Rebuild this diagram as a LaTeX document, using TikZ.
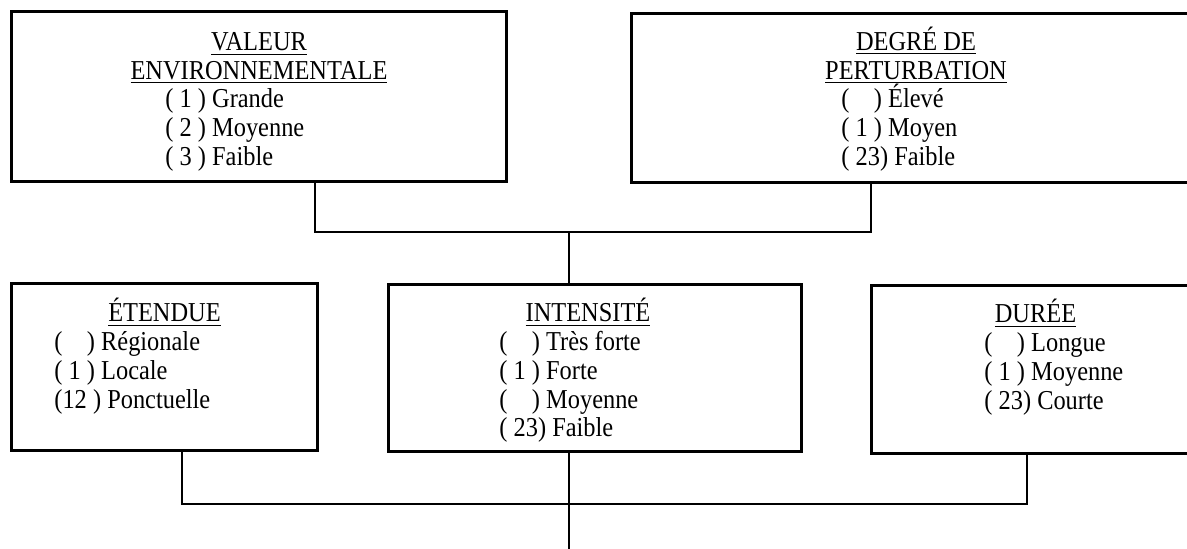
\documentclass[tikz,border=0pt]{standalone}
\usepackage{fontspec}
\setmainfont{Liberation Serif}
\newcommand\choix[1]{(#1)}
\newcommand\etire[1]{\scalebox{1}[1.12]{#1}}
\begin{document}
\begin{tikzpicture}[x=0.5pt,y=-0.5pt,
    boite/.style={draw,line width=1.3pt,anchor=north west,inner sep=0pt},
    lien/.style={line width=1.1pt},
    titre/.style={anchor=base,inner sep=0pt,font=\fontsize{12.2}{14.35}\selectfont},
    ligne/.style={anchor=base west,inner sep=0pt,font=\fontsize{12.2}{14.35}\selectfont}]
    \useasboundingbox (0,0) rectangle (1187,549);
    \clip (0,0) rectangle (1187,549);
    % boites
    \node[boite,minimum width=247.5pt,minimum height=85pt] (valeur) at (10,10) {};
    \node[boite,minimum width=290pt,minimum height=84.5pt] (perturbation) at (630,12) {};
    \node[boite,minimum width=153pt,minimum height=83.5pt] (etendue) at (10,282) {};
    \node[boite,minimum width=206.5pt,minimum height=83.5pt] (intensite) at (387,283) {};
    \node[boite,minimum width=170pt,minimum height=84pt] (duree) at (870,284) {};
    % titres
    \node[titre] (valeur-t1) at (259,50.5) {\etire{\underline{VALEUR}}};
    \node[titre] (valeur-t2) at (259,79.2) {\etire{\underline{ENVIRONNEMENTALE}}};
    \node[titre] (perturbation-t1) at (916,50.5) {\etire{\underline{DEGRÉ DE}}};
    \node[titre] (perturbation-t2) at (916,79.2) {\etire{\underline{PERTURBATION}}};
    \node[titre] (etendue-t) at (164.5,322) {\etire{\underline{ÉTENDUE}}};
    \node[titre] (intensite-t) at (588,322) {\etire{\underline{INTENSITÉ}}};
    \node[titre] (duree-t) at (1035.5,323) {\etire{\underline{DURÉE}}};
    % cotes
    \foreach \txt [count=\i] in {\choix{ 1 } Grande,\choix{ 2 } Moyenne,\choix{ 3 } Faible}
      \node[ligne] (valeur-\i) at (165,{79.2+28.7*\i}) {\etire{\txt}};
    \foreach \txt [count=\i] in {\choix{\phantom{ 1 }} Élevé,\choix{ 1 } Moyen,\choix{ 23} Faible}
      \node[ligne] (perturbation-\i) at (841,{79.2+28.7*\i}) {\etire{\txt}};
    \foreach \txt [count=\i] in {\choix{\phantom{ 1 }} Régionale,\choix{ 1 } Locale,\choix{12 } Ponctuelle}
      \node[ligne] (etendue-\i) at (54,{322+28.7*\i}) {\etire{\txt}};
    \foreach \txt [count=\i] in {\choix{\phantom{ 1 }} Très forte,\choix{ 1 } Forte,\choix{\phantom{ 1 }} Moyenne,\choix{ 23} Faible}
      \node[ligne] (intensite-\i) at (499,{322+28.7*\i}) {\etire{\txt}};
    \foreach \txt [count=\i] in {\choix{\phantom{ 1 }} Longue,\choix{ 1 } Moyenne,\choix{ 23} Courte}
      \node[ligne] (duree-\i) at (984,{323+28.7*\i}) {\etire{\txt}};
    % liens
    \coordinate (hautG) at (315,232);
    \coordinate (hautD) at (871,232);
    \coordinate (haut) at (569,232);
    \coordinate (basG) at (182,504);
    \coordinate (basD) at (1027,504);
    \coordinate (sortie) at (569,549);
    \draw[lien] (valeur.south -| hautG) -- (hautG) -- (hautD) -- (perturbation.south -| hautD);
    \draw[lien] (haut) -- (intensite.north -| haut);
    \draw[lien] (etendue.south -| basG) -- (basG) -- (basD) -- (duree.south -| basD);
    \draw[lien] (intensite.south -| sortie) -- (sortie);
  \end{tikzpicture}
\end{document}
